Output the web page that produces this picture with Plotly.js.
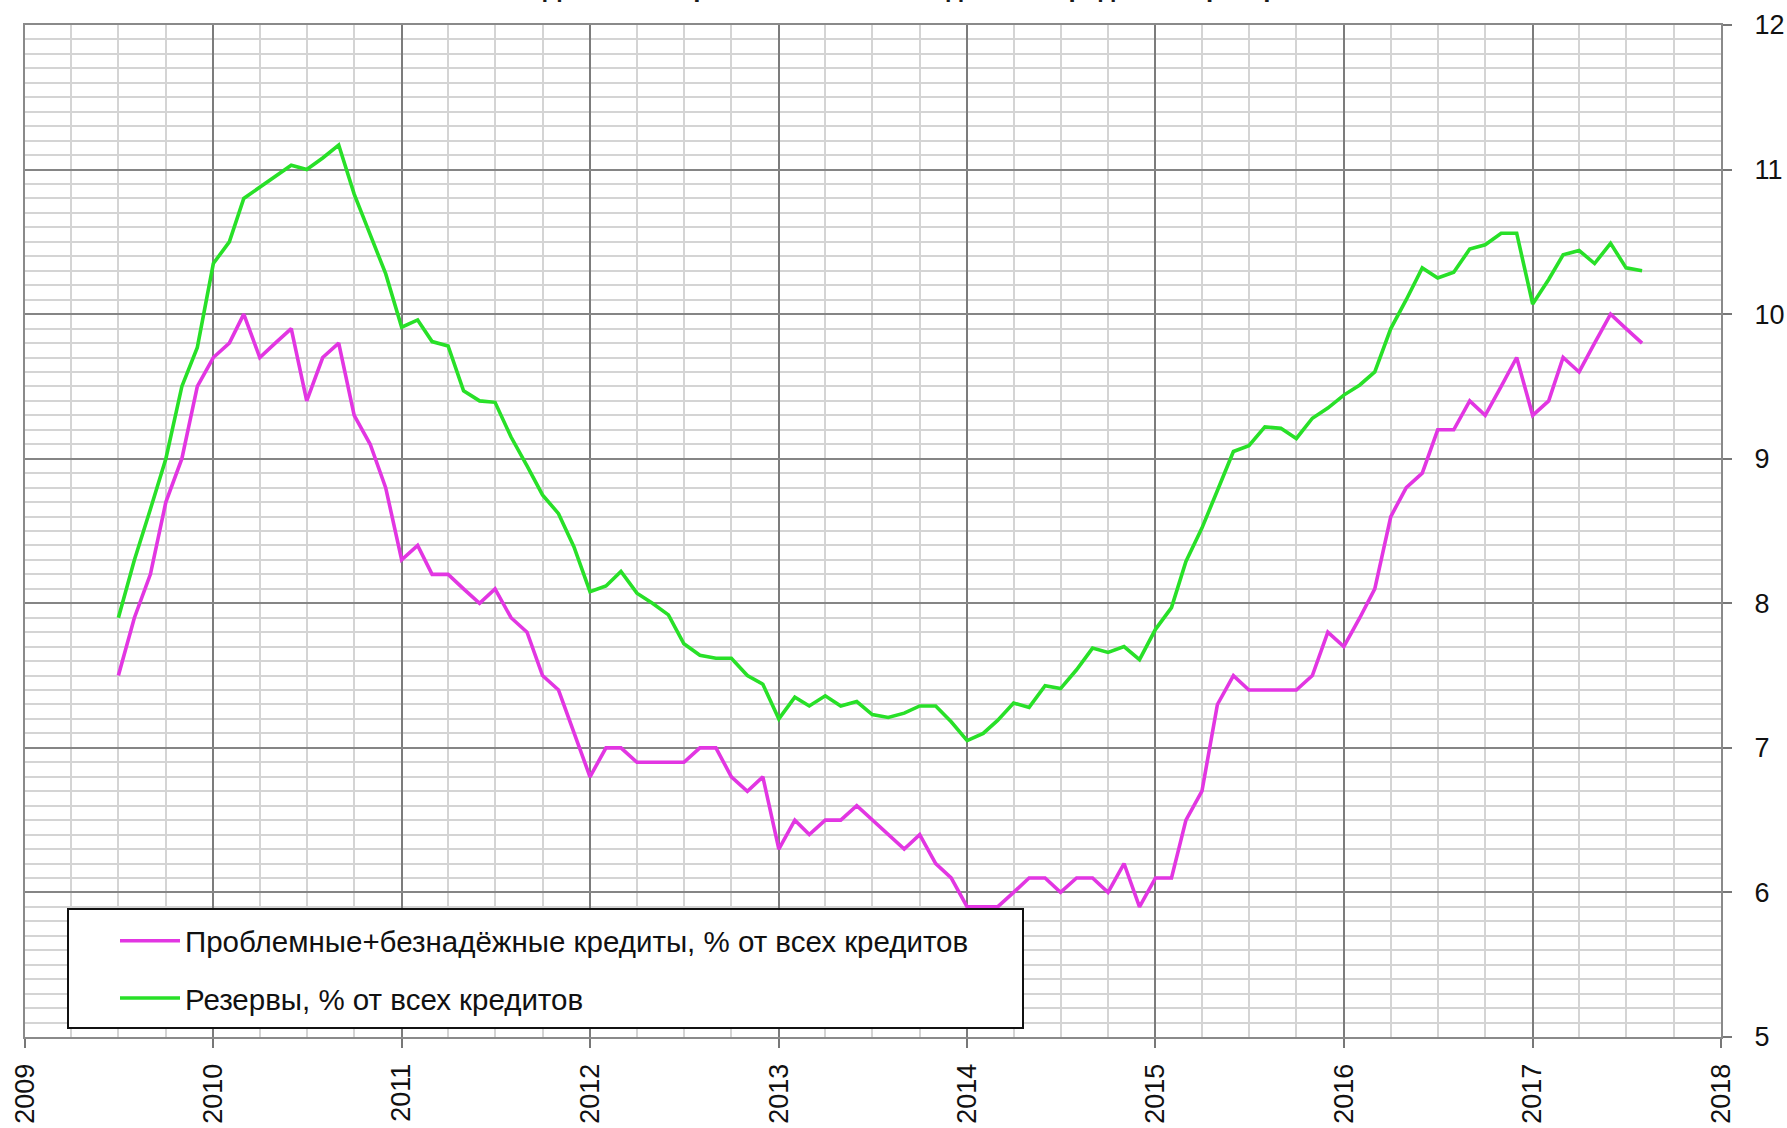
<!DOCTYPE html>
<html>
<head>
<meta charset="utf-8">
<script src="https://cdn.plot.ly/plotly-3.0.1.min.js"></script>
<style>html,body{margin:0;padding:0;background:#fff;}#chart{width:1787px;height:1128px;}</style>
</head>
<body>
<div id="chart"></div>
<script>
// Monthly observations, July 2009 .. August 2017
const startYear = 2009, startMonth = 7, nMonths = 98;
const months = [];
for (let k = 0; k < nMonths; k++) {
  const m0 = startMonth - 1 + k;
  const y = startYear + Math.floor(m0 / 12);
  const m = (m0 % 12) + 1;
  months.push(y + '-' + String(m).padStart(2, '0') + '-01');
}

const problemLoans = [
  7.5, 7.9, 8.2, 8.7, 9.0, 9.5,
  9.7, 9.8, 10.0, 9.7, 9.8, 9.9, 9.4, 9.7, 9.8, 9.3, 9.1, 8.8, 8.3, 8.4, 8.2, 8.2, 8.1, 8.0,
  8.1, 7.9, 7.8, 7.5, 7.4, 7.1, 6.8, 7.0, 7.0, 6.9, 6.9, 6.9, 6.9, 7.0, 7.0, 6.8, 6.7, 6.8,
  6.3, 6.5, 6.4, 6.5, 6.5, 6.6, 6.5, 6.4, 6.3, 6.4, 6.2, 6.1, 5.9, 5.9, 5.9, 6.0, 6.1, 6.1,
  6.0, 6.1, 6.1, 6.0, 6.2, 5.9, 6.1, 6.1, 6.5, 6.7, 7.3, 7.5, 7.4, 7.4, 7.4, 7.4, 7.5, 7.8,
  7.7, 7.9, 8.1, 8.6, 8.8, 8.9, 9.2, 9.2, 9.4, 9.3, 9.5, 9.7, 9.3, 9.4, 9.7, 9.6, 9.8, 10.0,
  9.9, 9.8
];

const reserves = [
  7.9, 8.3, 8.65, 9.0, 9.5, 9.77,
  10.35, 10.5, 10.8, 10.88, 10.95, 11.03, 11.0, 11.08, 11.17, 10.83, 10.55, 10.28, 9.91, 9.96, 9.81, 9.78, 9.47, 9.4,
  9.39, 9.15, 8.95, 8.75, 8.62, 8.39, 8.08, 8.12, 8.22, 8.07, 8.0, 7.92, 7.72, 7.64, 7.62, 7.62, 7.5, 7.44,
  7.2, 7.35, 7.29, 7.36, 7.29, 7.32, 7.23, 7.21, 7.24, 7.29, 7.29, 7.18, 7.05, 7.1, 7.19, 7.31, 7.28, 7.43,
  7.41, 7.54, 7.69, 7.66, 7.7, 7.61, 7.82, 7.97, 8.29, 8.52, 8.78, 9.05, 9.09, 9.22, 9.21, 9.14, 9.28, 9.35,
  9.44, 9.51, 9.6, 9.9, 10.1, 10.32, 10.25, 10.29, 10.45, 10.48, 10.56, 10.56, 10.07, 10.24, 10.41, 10.44, 10.35, 10.49,
  10.32, 10.3
];

const seriesNames = [
  'Проблемные+безнадёжные кредиты, % от всех кредитов',
  'Резервы, % от всех кредитов'
];
const titleText = 'Динамика проблемных и безнадёжных кредитов и резервов';

const FONT = 'Liberation Sans, Arial, sans-serif';

const traces = [
  {x: months, y: problemLoans, type: 'scatter', mode: 'lines', name: seriesNames[0],
   legendgroup: 'a', line: {color: '#e236e2', width: 3.6}},
  {x: months, y: reserves, type: 'scatter', mode: 'lines', name: seriesNames[1],
   legendgroup: 'b', line: {color: '#28e028', width: 3.6}}
];

const W = 1787, H = 1128, L = 25, R = 66, T = 25, B = 91;
const pw = W - L - R, ph = H - T - B;
const px2x = p => (p - L) / pw;
const py2y = p => (H - B - p) / ph;

const layout = {
  width: W, height: H,
  margin: {l: L, r: R, t: T, b: B, pad: 0},
  paper_bgcolor: '#ffffff', plot_bgcolor: '#ffffff',
  font: {family: FONT, size: 27, color: '#111111'},
  showlegend: true,
  xaxis: {
    type: 'date',
    range: ['2009-01-01', '2018-01-01'],
    tick0: '2009-01-01', dtick: 'M12', tickformat: '%Y',
    tickangle: -90,
    ticks: 'outside', ticklen: 9, tickwidth: 2, tickcolor: '#777',
    ticklabelstandoff: 5,
    showgrid: true, gridcolor: '#7c7c7c', gridwidth: 2,
    minor: {dtick: 'M3', tick0: '2009-01-01', showgrid: true, gridcolor: '#d4d4d4', gridwidth: 2, ticks: ''},
    showline: true, linecolor: '#8a8a8a', linewidth: 2, mirror: true,
    zeroline: false, fixedrange: true
  },
  yaxis: {
    side: 'right',
    range: [5, 12], tick0: 5, dtick: 1,
    ticks: 'outside', ticklen: 9, tickwidth: 2, tickcolor: '#777',
    ticklabelstandoff: 17,
    showgrid: true, gridcolor: '#858585', gridwidth: 2,
    minor: {dtick: 0.1, showgrid: true, gridcolor: '#d4d4d4', gridwidth: 2, ticks: ''},
    showline: true, linecolor: '#8a8a8a', linewidth: 2, mirror: true,
    zeroline: false, fixedrange: true
  },
  legend: {
    x: px2x(115), xanchor: 'left',
    y: py2y(915), yanchor: 'top',
    bgcolor: 'rgba(0,0,0,0)', borderwidth: 0,
    font: {family: FONT, size: 29.5, color: '#111111'},
    traceorder: 'grouped', tracegroupgap: 16,
    itemwidth: 60
  },
  shapes: [{
    type: 'rect', xref: 'paper', yref: 'paper', layer: 'above',
    x0: px2x(68), x1: px2x(1023), y0: py2y(1028), y1: py2y(909),
    line: {color: '#111', width: 2}, fillcolor: '#ffffff'
  }],
  annotations: [{
    text: '<b>' + titleText + '</b>', showarrow: false,
    xref: 'paper', yref: 'paper',
    x: px2x(541), xanchor: 'left',
    y: py2y(5), yanchor: 'bottom',
    font: {family: FONT, size: 26, color: '#1a1a1a'}
  }]
};

Plotly.newPlot('chart', traces, layout, {staticPlot: true, displayModeBar: false});
</script>
</body>
</html>
